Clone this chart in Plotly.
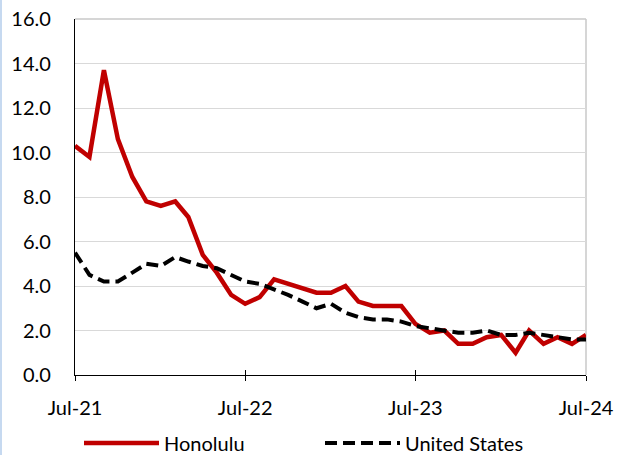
import pandas as pd
import plotly.graph_objects as go

months = pd.date_range("2021-07-01", periods=37, freq="MS")

honolulu = [10.3, 9.8, 13.7, 10.6, 8.9, 7.8, 7.6, 7.8, 7.1, 5.4, 4.6, 3.6,
            3.2, 3.5, 4.3, 4.1, 3.9, 3.7, 3.7, 4.0, 3.3, 3.1, 3.1, 3.1,
            2.3, 1.9, 2.0, 1.4, 1.4, 1.7, 1.8, 1.0, 2.0, 1.4, 1.7, 1.4, 1.8]

united_states = [5.5, 4.5, 4.2, 4.2, 4.6, 5.0, 4.9, 5.3, 5.1, 4.9, 4.8, 4.5,
                 4.2, 4.1, 3.85, 3.6, 3.3, 3.0, 3.2, 2.8, 2.6, 2.5, 2.5, 2.4,
                 2.2, 2.1, 2.0, 1.9, 1.9, 2.0, 1.8, 1.8, 1.9, 1.8, 1.7, 1.6, 1.6]

x_tick_dates = ["2021-07-01", "2022-07-01", "2023-07-01", "2024-07-01"]
x_tick_labels = ["Jul-21", "Jul-22", "Jul-23", "Jul-24"]
y_ticks = [0, 2, 4, 6, 8, 10, 12, 14, 16]
y_tick_labels = ["%.1f" % v for v in y_ticks]

FONT = "Lato"
FS = 20
W, H = 617, 455
ML, MR, MT, MB = 75, 31, 19, 80

fig = go.Figure()
fig.add_trace(go.Scatter(x=months, y=honolulu, mode="lines", name="Honolulu",
                         line=dict(color="#c00000", width=4.5)))
fig.add_trace(go.Scatter(x=months, y=united_states, mode="lines", name="United States",
                         line=dict(color="#000000", width=4, dash="12px,6px")))

xrange = [x_tick_dates[0], x_tick_dates[-1]]
fig.update_layout(
    width=W, height=H,
    margin=dict(l=ML, r=MR, t=MT, b=MB, autoexpand=False),
    paper_bgcolor="white", plot_bgcolor="white",
    font=dict(family=FONT, size=FS, color="#000000"),
    showlegend=True,
    legend=dict(orientation="h", xref="container", yref="container",
                x=79 / W, xanchor="left", y=12 / H, yanchor="middle",
                entrywidth=151, entrywidthmode="pixels", itemwidth=75,
                font=dict(family=FONT, size=FS, color="#000000"),
                bgcolor="rgba(0,0,0,0)"),
    xaxis=dict(type="date", range=xrange, tickvals=x_tick_dates, ticktext=x_tick_labels,
               showgrid=False, showline=True, linecolor="#000000", linewidth=1.3,
               ticks="outside", ticklen=5, tickcolor="#000000", tickwidth=1.3,
               zeroline=False, ticklabelstandoff=10,
               tickfont=dict(family=FONT, size=FS, color="#000000")),
    xaxis2=dict(type="date", range=xrange, tickvals=x_tick_dates, showticklabels=False,
                overlaying="x", anchor="y", side="bottom",
                showgrid=False, showline=False, ticks="inside", ticklen=5,
                tickcolor="#000000", tickwidth=1.3, zeroline=False),
    yaxis=dict(range=[0, 16], tickvals=y_ticks, ticktext=y_tick_labels,
               showgrid=True, gridcolor="#d9d9d9", gridwidth=1.3,
               showline=True, linecolor="#000000", linewidth=1.3,
               ticks="", zeroline=False, ticklabelstandoff=19,
               tickfont=dict(family=FONT, size=FS, color="#000000")),
)

# invisible trace so the overlay axis (crossing tick marks) is rendered
fig.add_trace(go.Scatter(x=[months[0]], y=[0], xaxis="x2", showlegend=False,
                         hoverinfo="skip", mode="lines", line=dict(width=0)))

# plot-area border (top/right) and outer chart border on left
pw = W - ML - MR
ph = H - MT - MB
fig.add_shape(type="line", xref="paper", yref="paper", x0=0, x1=1, y0=1, y1=1,
              line=dict(color="#c8c8c8", width=1.5), layer="below")
fig.add_shape(type="line", xref="paper", yref="paper", x0=1, x1=1, y0=0, y1=1,
              line=dict(color="#c8c8c8", width=1.5), layer="below")
fig.add_shape(type="line", xref="paper", yref="paper", x0=-(ML - 1) / pw, x1=-(ML - 1) / pw,
              y0=-MB / ph, y1=1 + MT / ph,
              line=dict(color="#c6d9f0", width=2))

fig.write_html("out.html", config={"displayModeBar": False},
               post_script="document.body.style.margin='0px';document.body.style.overflow='hidden';")
